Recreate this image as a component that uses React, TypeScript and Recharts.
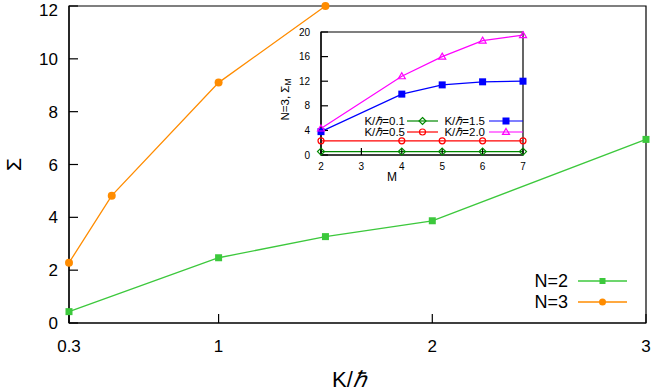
import React from 'react';
import { LineChart, Line, XAxis, YAxis, ReferenceArea, Legend, Label } from 'recharts';

const FONT = '"Liberation Sans", Arial, Helvetica, sans-serif';

// main panel: Sigma vs K/hbar
const n2K = [0.3, 1, 1.5, 2, 3];
const n2Sigma = [0.43, 2.47, 3.27, 3.87, 6.95];
const n3K = [0.3, 0.5, 1, 1.5];
const n3Sigma = [2.28, 4.82, 9.1, 12.0];
const mainXTicks = [0.3, 1, 2, 3];
const mainYTicks = [0, 2, 4, 6, 8, 10, 12];

// inset: N=3, Sigma_M vs M
const insetM = [2, 4, 5, 6, 7];
const sigmaK01 = [0.55, 0.55, 0.55, 0.55, 0.55];
const sigmaK05 = [2.3, 2.3, 2.3, 2.3, 2.3];
const sigmaK15 = [3.8, 9.9, 11.4, 11.9, 12.0];
const sigmaK20 = [4.3, 12.8, 16.0, 18.6, 19.5];
const insetXTicks = [2, 3, 4, 5, 6, 7];
const insetYTicks = [0, 4, 8, 12, 16, 20];

type Shape = 'square' | 'circle' | 'openCircle' | 'diamond' | 'triangle';

const toRows = (xs: number[], ys: number[]) => xs.map((x, i) => ({ x, y: ys[i] }));

const mainSeries = [
  { name: 'N=2', rows: toRows(n2K, n2Sigma), color: '#3cc83c', shape: 'square' as Shape, size: 7 },
  { name: 'N=3', rows: toRows(n3K, n3Sigma), color: '#ff8c00', shape: 'circle' as Shape, size: 8 },
];

const insetSeries = [
  { name: '0.1', rows: toRows(insetM, sigmaK01), color: '#008800', shape: 'diamond' as Shape, size: 7 },
  { name: '0.5', rows: toRows(insetM, sigmaK05), color: '#ff0000', shape: 'openCircle' as Shape, size: 7 },
  { name: '1.5', rows: toRows(insetM, sigmaK15), color: '#0000ff', shape: 'square' as Shape, size: 7 },
  { name: '2.0', rows: toRows(insetM, sigmaK20), color: '#ff00ff', shape: 'triangle' as Shape, size: 7 },
];

function marker(shape: Shape, cx: number, cy: number, color: string, size: number, key?: string) {
  const h = size / 2;
  switch (shape) {
    case 'square':
      return <rect key={key} x={cx - h} y={cy - h} width={size} height={size} fill={color} />;
    case 'circle':
      return <circle key={key} cx={cx} cy={cy} r={h} fill={color} />;
    case 'openCircle':
      return <circle key={key} cx={cx} cy={cy} r={h - 0.5} fill="none" stroke={color} strokeWidth={1.2} />;
    case 'diamond':
      return (
        <polygon
          key={key}
          points={`${cx},${cy - h} ${cx + h},${cy} ${cx},${cy + h} ${cx - h},${cy}`}
          fill="none"
          stroke={color}
          strokeWidth={1.2}
        />
      );
    case 'triangle':
      return (
        <polygon
          key={key}
          points={`${cx},${cy - h} ${cx + h},${cy + h * 0.7} ${cx - h},${cy + h * 0.7}`}
          fill="none"
          stroke={color}
          strokeWidth={1.2}
        />
      );
  }
}

const dotRenderer = (shape: Shape, color: string, size: number) => (props: any) => {
  const { cx, cy, index } = props;
  if (cx == null || cy == null) return <g key={`e-${shape}-${index}`} />;
  return marker(shape, cx, cy, color, size, `${shape}-${color}-${index}`);
};

const SigmaLabel = (props: any) => {
  const vb = props.viewBox || { x: 0, y: 6, width: 69, height: 317 };
  const cx = vb.x + 13;
  const cy = vb.y + vb.height / 2;
  return (
    <g transform={`translate(${cx} ${cy}) rotate(-90)`}>
      <text x={0} y={0} textAnchor="middle" dominantBaseline="central" fontSize={21} fill="#000">
        Σ
      </text>
    </g>
  );
};

const KLabel = (props: any) => {
  const vb = props.viewBox || { x: 69, y: 323, width: 577, height: 69 };
  return (
    <text x={vb.x + vb.width / 2 - 8} y={vb.y + vb.height - 5} textAnchor="middle" fontSize={22} fill="#000">
      K/<tspan fontStyle="italic">ℏ</tspan>
    </text>
  );
};

const MLabel = (props: any) => {
  const vb = props.viewBox || { x: 321, y: 155, width: 202, height: 31 };
  return (
    <text x={vb.x + vb.width / 2 - 30} y={vb.y + vb.height - 5} textAnchor="middle" fontSize={12} fill="#000">
      M
    </text>
  );
};

const InsetYLabel = (props: any) => {
  const vb = props.viewBox || { x: 271, y: 32, width: 50, height: 123 };
  const cx = vb.x + 14;
  const cy = vb.y + vb.height / 2 + 6;
  return (
    <g transform={`translate(${cx} ${cy}) rotate(-90)`}>
      <text x={0} y={0} textAnchor="middle" dominantBaseline="central" fontSize={11.5} fill="#000">
        N=3, Σ<tspan fontSize={8.5} dy={3}>M</tspan>
      </text>
    </g>
  );
};

const MainLegend = () => (
  <svg width={110} height={46} style={{ display: 'block', overflow: 'visible', fontFamily: FONT }}>
    {mainSeries.map((s, i) => {
      const y = 13 + i * 21;
      return (
        <g key={s.name}>
          <text x={38} y={y} textAnchor="end" dominantBaseline="central" fontSize={18} fill="#000">
            {s.name}
          </text>
          <line x1={48} x2={97} y1={y} y2={y} stroke={s.color} strokeWidth={1.3} />
          {marker(s.shape, 72.5, y, s.color, s.size - 1)}
        </g>
      );
    })}
  </svg>
);

const InsetLegend = () => (
  <svg width={175} height={24} style={{ display: 'block', overflow: 'visible', fontFamily: FONT }}>
    {insetSeries.map((s, i) => {
      const col = Math.floor(i / 2);
      const row = i % 2;
      const y = 6 + row * 11;
      const textEnd = col === 0 ? 50 : 130;
      const lx1 = col === 0 ? 52 : 134;
      const lx2 = col === 0 ? 83 : 168;
      return (
        <g key={s.name}>
          <text x={textEnd} y={y} textAnchor="end" dominantBaseline="central" fontSize={11.5} fill="#000">
            K/<tspan fontStyle="italic">ℏ</tspan>={s.name}
          </text>
          <line x1={lx1} x2={lx2} y1={y} y2={y} stroke={s.color} strokeWidth={1.2} />
          {marker(s.shape, (lx1 + lx2) / 2, y, s.color, s.size)}
        </g>
      );
    })}
  </svg>
);

export default function App() {
  return (
    <div style={{ position: 'absolute', left: 0, top: 0, width: 654, height: 392, fontFamily: FONT, background: '#fff' }}>
      <LineChart width={654} height={392} margin={{ top: 6, right: 8, left: 0, bottom: 0 }}>
        <XAxis
          type="number"
          dataKey="x"
          domain={[0.3, 3]}
          ticks={mainXTicks}
          height={69}
          stroke="#000"
          strokeWidth={1.2}
          tickSize={-9}
          tickMargin={26}
          tick={{ fill: '#000', fontSize: 17 }}
        >
          <Label content={KLabel} />
        </XAxis>
        <YAxis
          type="number"
          domain={[0, 12]}
          ticks={mainYTicks}
          width={69}
          stroke="#000"
          strokeWidth={1.2}
          tickSize={-9}
          tickMargin={20}
          tick={{ fill: '#000', fontSize: 17 }}
        >
          <Label content={SigmaLabel} />
        </YAxis>
        <ReferenceArea x1={0.3} x2={3} y1={0} y2={12} fill="none" stroke="#000" strokeWidth={1.2} />
        {mainSeries.map((s) => (
          <Line
            key={s.name}
            name={s.name}
            data={s.rows}
            dataKey="y"
            type="linear"
            stroke={s.color}
            strokeWidth={1.3}
            dot={dotRenderer(s.shape, s.color, s.size)}
            activeDot={false}
            isAnimationActive={false}
          />
        ))}
        <Legend
          layout="horizontal"
          verticalAlign="middle"
          align="center"
          content={MainLegend}
          wrapperStyle={{ left: 530, top: 268, width: 110, height: 46 }}
        />
      </LineChart>

      <div style={{ position: 'absolute', left: 271, top: 26 }}>
        <LineChart width={260} height={160} margin={{ top: 6, right: 8, left: 0, bottom: 0 }}>
          <XAxis
            type="number"
            dataKey="x"
            domain={[2, 7]}
            ticks={insetXTicks}
            height={31}
            stroke="#000"
            strokeWidth={1.2}
            tickSize={-7}
            tickMargin={15}
            tick={{ fill: '#000', fontSize: 10 }}
          >
            <Label content={MLabel} />
          </XAxis>
          <YAxis
            type="number"
            domain={[0, 20]}
            ticks={insetYTicks}
            width={50}
            stroke="#000"
            strokeWidth={1.2}
            tickSize={-7}
            tickMargin={18}
            tick={{ fill: '#000', fontSize: 10 }}
          >
            <Label content={InsetYLabel} />
          </YAxis>
          <ReferenceArea x1={2} x2={7} y1={0} y2={20} fill="none" stroke="#000" strokeWidth={1.2} />
          {insetSeries.map((s) => (
            <Line
              key={s.name}
              name={`K/ℏ=${s.name}`}
              data={s.rows}
              dataKey="y"
              type="linear"
              stroke={s.color}
              strokeWidth={1.2}
              dot={dotRenderer(s.shape, s.color, s.size)}
              activeDot={false}
              isAnimationActive={false}
            />
          ))}
          <Legend
            layout="horizontal"
            verticalAlign="middle"
            align="center"
            content={InsetLegend}
            wrapperStyle={{ left: 84, top: 89, width: 175, height: 24 }}
          />
        </LineChart>
      </div>
    </div>
  );
}
